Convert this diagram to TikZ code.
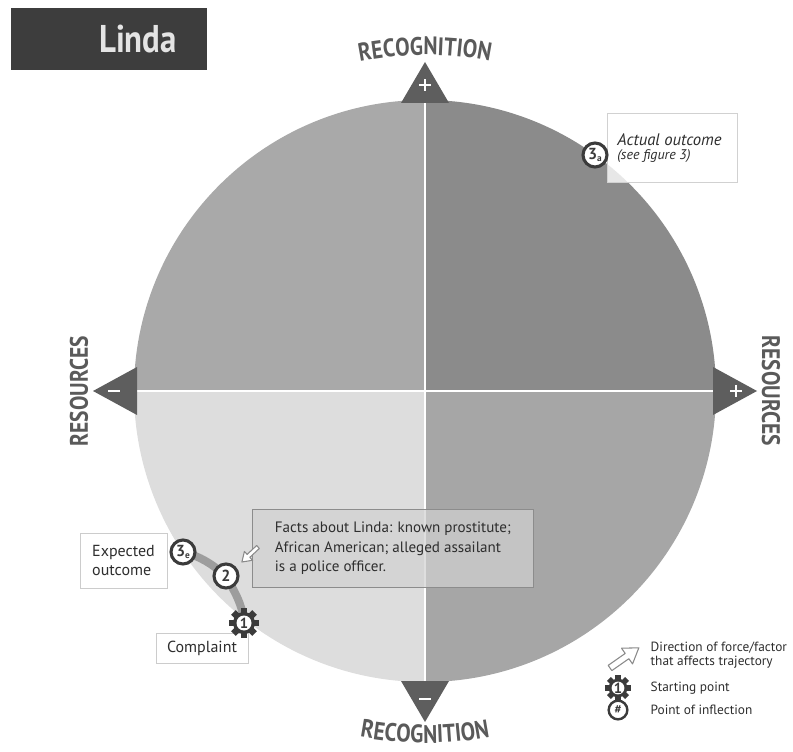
\documentclass[tikz,border=0pt]{standalone}
\usepackage{fontspec}
\setmainfont{PT Sans}
\newfontfamily\labfont[FakeStretch=0.85]{PT Sans}
\usetikzlibrary{decorations.text,calc}
\definecolor{qtr}{HTML}{8B8B8B}
\definecolor{qtl}{HTML}{A9A9A9}
\definecolor{qbl}{HTML}{DDDDDD}
\definecolor{qbr}{HTML}{A6A6A6}
\definecolor{tri}{HTML}{5E5E5E}
\definecolor{labc}{HTML}{5A5A5A}
\definecolor{mk}{HTML}{3B3B3B}
\definecolor{titlebg}{HTML}{3D3D3D}
\definecolor{titletx}{HTML}{E4E4E4}
\definecolor{trajc}{HTML}{9D9D9D}
\definecolor{arrg}{HTML}{8A8A8A}
\definecolor{txt}{HTML}{2E2E2E}
\begin{document}
\begin{tikzpicture}[x=0.75pt,y=0.75pt,
  marker/.style={circle, draw=mk, line width=2.3pt, fill=white, inner sep=0pt,
    minimum size=18pt, font=\bfseries\fontsize{12}{12}\selectfont, text=mk},
  wbox/.style={draw=black!20, fill=white, line width=0.6pt, inner sep=0pt,
    font=\fontsize{12}{14.5}\selectfont, text=txt},
  traj/.style={draw=trajc, line width=6pt, line cap=round},
  legtext/.style={font=\fontsize{10}{11}\selectfont, text=txt, anchor=west, align=left},
  axislab/.style={text=labc, font=\labfont\bfseries\fontsize{19}{19}\selectfont, inner sep=0pt},
  plusmark/.style={white, line width=2pt},
  gear/.pic={
    \fill[mk] (0,0) circle (11);
    \foreach \a in {0,45,...,315} \fill[mk, rotate=\a] (-3.3,9) rectangle (3.3,15);
    \fill[white] (0,0) circle (7.5);
    \node[text=mk, font=\bfseries\fontsize{11}{11}\selectfont] {#1};
  },
  blockarrow/.pic={
    \filldraw[fill=white, draw=arrg, line width=0.8pt, line join=round]
      (0,-2) -- (13,-2) -- (13,-6) -- (22,0) -- (13,6) -- (13,2) -- (0,2) -- cycle;
  }
]
\useasboundingbox (0,0) rectangle (793,751);
\coordinate (C) at (425,360);

% quadrants
\fill[qtr] (C) -- ++(90:291) arc[start angle=90,end angle=0,radius=291] -- cycle;
\fill[qtl] (C) -- ++(180:291) arc[start angle=180,end angle=90,radius=291] -- cycle;
\fill[qbl] (C) -- ++(270:291) arc[start angle=270,end angle=180,radius=291] -- cycle;
\fill[qbr] (C) -- ++(0:291) arc[start angle=0,end angle=-90,radius=291] -- cycle;
\draw[white, line width=1.2pt] ($(C)+(0,291)$) -- ($(C)+(0,-291)$);
\draw[white, line width=1.2pt] ($(C)+(-291,0)$) -- ($(C)+(291,0)$);

% axis triangles
\fill[tri] (401,648) -- (425,689) -- (449,648) -- cycle;
\fill[tri] (401,70) -- (425,29) -- (449,70) -- cycle;
\fill[tri] (137,384) -- (93,360) -- (137,336) -- cycle;
\fill[tri] (713,384) -- (757,360) -- (713,336) -- cycle;
\draw[plusmark] (419,666) -- (431,666) (425,660) -- (425,672);
\draw[plusmark] (419,52) -- (431,52);
\draw[plusmark] (108,360) -- (120,360);
\draw[plusmark] (730,360) -- (742,360) (736,354) -- (736,366);

% axis labels
\path[decorate, decoration={text along path, text align=center, text color=labc,
  text={|\labfont\bfseries\fontsize{19}{19}\selectfont|RECOGNITION}}]
  ($(C)+(118:336)$) arc[start angle=118,end angle=62,radius=336];
\path[decorate, decoration={text along path, text align=center, text color=labc,
  text={|\labfont\bfseries\fontsize{19}{19}\selectfont|RECOGNITION}}]
  ($(C)+(242:352)$) arc[start angle=242,end angle=298,radius=352];
\node[axislab, rotate=90] (resl) at (79,360) {RESOURCES};
\node[axislab, rotate=-90] (resr) at (771,360) {RESOURCES};

% title
\fill[titlebg] (11,681) rectangle (207,743);
\node[text=titletx, font=\labfont\bfseries\fontsize{29}{29}\selectfont] (title) at (138,712) {Linda};

% actual outcome
\node[wbox, draw=black!18, fill opacity=0.8, text opacity=1, anchor=north west,
  minimum width=97.5pt, minimum height=51.75pt] (actual) at (607,638) {};
\node[anchor=west, align=left, text=txt, inner sep=0pt] (actualtext) at (617,603)
  {{\itshape\fontsize{12.5}{14}\selectfont Actual outcome}\\[-1pt]
   {\itshape\fontsize{10.5}{12.5}\selectfont (see figure 3)}};
\node[marker] (m3a) at (595,596) {3\raisebox{-0.3ex}{\fontsize{7}{7}\selectfont a}};

% trajectory
\coordinate (p3e) at (183,199);
\coordinate (p2) at (226,175);
\coordinate (p1) at (244,128);
\draw[traj] (p3e) to[out=-15,in=140] (p2) to[out=-62,in=95] (p1);

% facts box
\node[draw=black!45, fill=black!18, fill opacity=0.7, text opacity=1, line width=0.6pt,
  anchor=north west, minimum width=210.75pt, minimum height=58.5pt, align=left,
  font=\fontsize{11.3}{14.6}\selectfont, text=txt] (facts) at (252,242)
  {Facts about Linda: known prostitute;\\African American; alleged assailant\\is a police officer.};
\pic[rotate=223] at (258,204) {blockarrow};

% expected and complaint boxes
\node[wbox, minimum width=65.25pt, minimum height=41.25pt, align=left] (expected) at (123.5,190.5)
  {Expected\\outcome};
\node[wbox, minimum width=69pt, minimum height=22.5pt] (complaint) at (202,103) {Complaint};

% markers
\node[marker] (m3e) at (p3e) {3\raisebox{-0.3ex}{\fontsize{7}{7}\selectfont e}};
\node[marker] (m2) at (p2) {2};
\pic at (p1) {gear=1};

% legend
\pic[rotate=35, scale=1.6] at (610,83) {blockarrow};
\node[legtext] (leg1) at (646,96) {Direction of force/factor\\that affects trajectory};
\pic[scale=0.85] at (618,63) {gear=1};
\node[legtext] (leg2) at (646,63) {Starting point};
\node[marker, minimum size=14pt, line width=1.8pt, font=\bfseries\fontsize{9}{9}\selectfont] (leg3m) at (618,41) {\#};
\node[legtext] (leg3) at (646,41) {Point of inflection};
\end{tikzpicture}
\end{document}
